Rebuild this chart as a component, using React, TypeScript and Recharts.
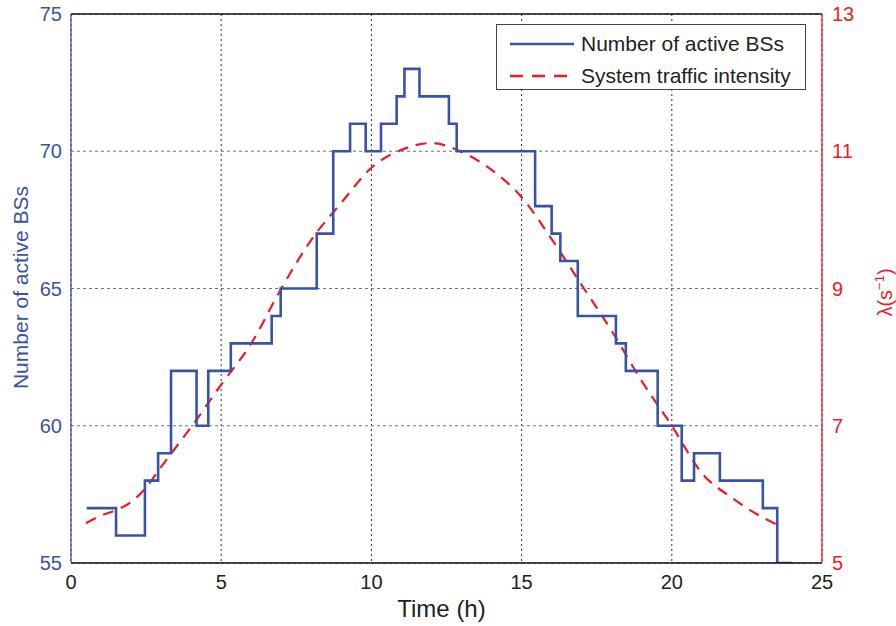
import React from "react";
import {
  LineChart,
  Line,
  XAxis,
  YAxis,
  CartesianGrid,
  ReferenceLine,
  Legend,
} from "recharts";

// Number of active BSs (step function): change times (h) and values
const bsTimes = [0.52, 1.5, 2.46, 2.9, 3.33, 4.18, 4.57, 5.32, 6.68, 6.98, 8.18, 8.73, 9.29, 9.81, 10.32, 10.84, 11.1, 11.6, 12.58, 12.84, 15.45, 16.0, 16.29, 16.87, 18.14, 18.47, 19.53, 20.33, 20.74, 21.6, 23.03, 23.51, 23.99];
const bsValues = [57, 56, 58, 59, 62, 60, 62, 63, 64, 65, 67, 70, 71, 70, 71, 72, 73, 72, 71, 70, 68, 67, 66, 64, 63, 62, 60, 58, 59, 58, 57, 55, 55];

// System traffic intensity λ (s^-1)
const lambdaTimes = [0.5, 1, 1.5, 2, 2.5, 3, 3.5, 4, 5, 6, 7, 8, 9, 10, 11, 12, 13, 14, 15, 16, 17, 18, 19, 20, 21, 22, 23, 23.5];
const lambdaValues = [5.58, 5.69, 5.77, 5.89, 6.1, 6.4, 6.69, 6.98, 7.6, 8.2, 9.0, 9.71, 10.25, 10.76, 11.02, 11.12, 10.99, 10.73, 10.33, 9.72, 9.05, 8.38, 7.65, 7.0, 6.31, 5.95, 5.67, 5.56];

const xTicks = [0, 5, 10, 15, 20, 25];
const leftTicks = [55, 60, 65, 70, 75];
const rightTicks = [5, 7, 9, 11, 13];

const seriesNames = ["Number of active BSs", "System traffic intensity"];

const BLUE = "#3953a4";
const RED = "#ed1c24";
const FONT = "'Liberation Sans', Arial, Helvetica, sans-serif";

const bsData = bsTimes.map((t, i) => ({ t, bs: bsValues[i] }));
const lambdaData = lambdaTimes.map((t, i) => ({ t, lambda: lambdaValues[i] }));

const LeftLabel = (props: any) => {
  const vb = props.viewBox || {};
  const cx = 28;
  const cy = vb.y + vb.height / 2 - 1;
  return (
    <text x={cx} y={cy} transform={`rotate(-90, ${cx}, ${cy})`} textAnchor="middle" fill={BLUE} fontSize={21} fontFamily={FONT}>
      Number of active BSs
    </text>
  );
};

const RightLabel = (props: any) => {
  const vb = props.viewBox || {};
  const cx = 892;
  const cy = vb.y + vb.height / 2 + 4;
  return (
    <text x={cx} y={cy} transform={`rotate(-90, ${cx}, ${cy})`} textAnchor="middle" fill={RED} fontSize={20} fontFamily={FONT}>
      λ(s
      <tspan fontSize={13} dy={-8}>−1</tspan>
      <tspan dy={8}>)</tspan>
    </text>
  );
};

const BottomLabel = (props: any) => {
  const vb = props.viewBox || {};
  const cx = vb.x + vb.width / 2 - 5;
  return (
    <text x={cx} y={617} textAnchor="middle" fill="#222" fontSize={24} fontFamily={FONT}>
      Time (h)
    </text>
  );
};

const LegendBox = () => (
  <div
    style={{
      border: "1.3px solid #444",
      background: "#fff",
      width: 310,
      height: 66,
      boxSizing: "border-box",
      fontFamily: FONT,
      fontSize: 21,
      color: "#222",
      paddingTop: 4,
    }}
  >
    {seriesNames.map((name, i) => (
      <div key={name} style={{ display: "flex", alignItems: "center", height: 30, marginTop: i === 0 ? 0 : 2 }}>
        <svg width={84} height={10} style={{ display: "block" }}>
          <line
            x1={13}
            y1={5}
            x2={77}
            y2={5}
            stroke={i === 0 ? BLUE : RED}
            strokeWidth={2.5}
            strokeDasharray={i === 0 ? undefined : "13 9"}
          />
        </svg>
        <span style={{ whiteSpace: "nowrap" }}>{name}</span>
      </div>
    ))}
  </div>
);

export default function App() {
  return (
    <div style={{ position: "absolute", left: 0, top: 0, background: "#fff" }}>
      <LineChart width={896} height={626} margin={{ top: 14, right: 0, bottom: 0, left: 0 }}>
        <CartesianGrid horizontal={false} stroke="#333" strokeDasharray="2 3" strokeWidth={1} />
        <CartesianGrid vertical={false} yAxisId="left" stroke="#5a72b8" strokeDasharray="3 3" strokeWidth={1.2} />
        <XAxis
          dataKey="t"
          type="number"
          domain={[0, 25]}
          ticks={xTicks}
          allowDuplicatedCategory={false}
          height={63}
          tickLine={false}
          tickMargin={6}
          axisLine={{ stroke: "#111", strokeWidth: 1.3 }}
          tick={{ fill: "#222", fontSize: 20, fontFamily: FONT }}
          label={<BottomLabel />}
        />
        <YAxis
          yAxisId="left"
          orientation="left"
          domain={[55, 75]}
          ticks={leftTicks}
          width={71}
          tickLine={false}
          tickMargin={3}
          axisLine={{ stroke: BLUE, strokeWidth: 1.3 }}
          tick={{ fill: BLUE, fontSize: 20, fontFamily: FONT }}
          label={<LeftLabel />}
          allowDataOverflow
        />
        <YAxis
          yAxisId="right"
          orientation="right"
          domain={[5, 13]}
          ticks={rightTicks}
          width={74}
          tickLine={false}
          tickMargin={4}
          axisLine={{ stroke: RED, strokeWidth: 1.3 }}
          tick={{ fill: RED, fontSize: 20, fontFamily: FONT }}
          label={<RightLabel />}
          allowDataOverflow
        />
        <ReferenceLine y={75} yAxisId="left" stroke="#111" strokeWidth={1.3} />
        <Line
          yAxisId="right"
          data={lambdaData}
          dataKey="lambda"
          name={seriesNames[1]}
          type="monotone"
          stroke={RED}
          strokeWidth={2.2}
          strokeDasharray="11 8"
          dot={false}
          isAnimationActive={false}
        />
        <Line
          yAxisId="left"
          data={bsData}
          dataKey="bs"
          name={seriesNames[0]}
          type="stepAfter"
          stroke={BLUE}
          strokeWidth={2.6}
          dot={false}
          isAnimationActive={false}
        />
        <Legend
          layout="vertical"
          align="center"
          verticalAlign="middle"
          content={<LegendBox />}
          wrapperStyle={{ left: 496, top: 24, width: 311, height: 67 }}
        />
      </LineChart>
    </div>
  );
}
